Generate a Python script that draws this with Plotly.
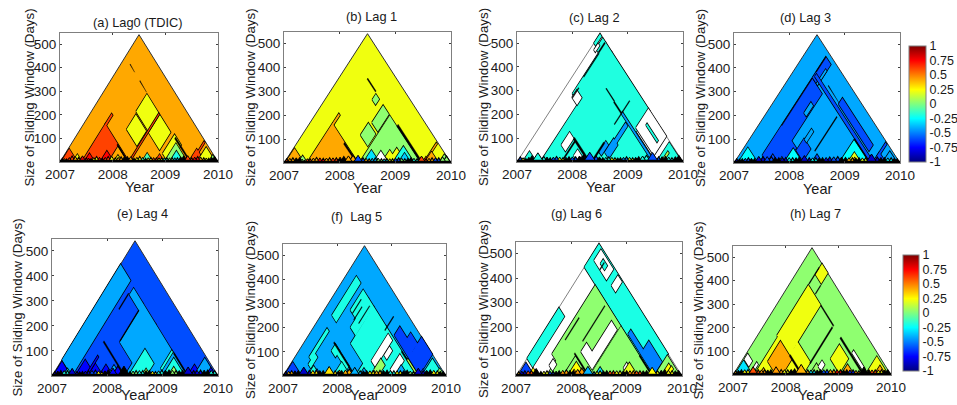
import plotly.graph_objects as go

# Region: (correlation, window-start a1, a2, window-end b1, b2) in years; None = not significant, "k" = dense contour
TITLES = ["(a) Lag0 (TDIC)", "(b) Lag 1", "(c) Lag 2", "(d) Lag 3", "(e) Lag 4", "(f)  Lag 5", "(g) Lag 6", "(h) Lag 7"]
TICK_YEARS = [2007, 2008, 2009, 2010]
TICK_DAYS = [100, 200, 300, 400, 500]
CBAR_TICKS = [-1, -0.75, -0.5, -0.25, 0, 0.25, 0.5, 0.75, 1]

LAG0 = [
    (0.42, 2007, 2010, 2007, 2010),
    (0.62, 2007.02, 2007.33, 2007.02, 2007.33), (0.22, 2007.24, 2007.42, 2007.24, 2007.42),
    (0.62, 2007.41, 2007.45, 2008.3, 2008.55),
    (0.62, 2007.41, 2008.31, 2007.41, 2008.31),
    (0.75, 2007.46, 2007.66, 2007.46, 2007.66), (0.75, 2007.76, 2008.02, 2007.76, 2008.02),
    (0.42, 2007.92, 2008.28, 2007.92, 2008.28), (0.22, 2008.02, 2008.18, 2008.02, 2008.18),
    ("k", 2007.88, 2008.28, 2008.28, 2008.31),
    (0.22, 2007.88, 2008.27, 2008.65, 2009.0), (0.22, 2007.85, 2008.3, 2009.04, 2009.45), (0.22, 2008.34, 2008.75, 2009.03, 2009.45),
    (0.62, 2008.3, 2008.325, 2008.4, 2009.45),
    (0.22, 2008.85, 2009.1, 2009.05, 2009.5), (0.03, 2008.98, 2009.42, 2008.98, 2009.42), (-0.2, 2009.08, 2009.34, 2009.08, 2009.34),
    ("k", 2008.9, 2009.46, 2009.45, 2009.49),
    (-0.1, 2008.55, 2008.76, 2008.55, 2008.76), (0.62, 2008.8, 2008.98, 2008.8, 2008.98),
    ("k", 2007.56, 2007.82, 2009.465, 2009.48), ("k", 2007.18, 2007.36, 2009.475, 2009.49),
    (0.62, 2009.49, 2009.52, 2009.6, 2009.98),
    (0.62, 2009.44, 2009.75, 2009.44, 2009.75), (0.22, 2009.6, 2009.95, 2009.6, 2009.95), (0.03, 2009.82, 2009.98, 2009.82, 2009.98),
]
LAG1 = [
    (0.22, 2007, 2010, 2007, 2010),
    (0.42, 2007.02, 2007.36, 2007.02, 2007.36), (0.03, 2007.25, 2007.42, 2007.25, 2007.42),
    (0.42, 2007.41, 2007.45, 2008.33, 2008.56),
    (0.42, 2007.41, 2008.33, 2007.41, 2008.33),
    ("k", 2007.85, 2008.3, 2008.29, 2008.33),
    (0.03, 2008.05, 2008.31, 2008.7, 2008.98), (0.03, 2008.11, 2008.32, 2009.05, 2009.45), (0.03, 2007.85, 2007.97, 2009.32, 2009.45),
    ("k", 2007.52, 2007.82, 2009.465, 2009.49),
    (0.03, 2008.35, 2009.45, 2008.35, 2009.45),
    (0.22, 2008.85, 2009.05, 2009.0, 2009.2), (0.22, 2008.75, 2008.95, 2008.9, 2009.05),
    (-0.2, 2008.95, 2009.34, 2008.95, 2009.34), (-0.35, 2009.05, 2009.28, 2009.05, 2009.28),
    (None, 2008.6, 2008.78, 2008.72, 2008.88), (-0.3, 2008.42, 2008.72, 2008.42, 2008.72),
    ("k", 2008.6, 2009.46, 2009.45, 2009.5),
    (0.42, 2009.5, 2009.53, 2009.6, 2009.97),
    (0.62, 2009.48, 2009.62, 2009.48, 2009.62), (0.42, 2009.52, 2009.78, 2009.52, 2009.78),
    (0.03, 2009.78, 2009.98, 2009.78, 2009.98), (-0.3, 2009.87, 2009.98, 2009.87, 2009.98),
]
LAG2 = [
    (None, 2007, 2010, 2007, 2010),
    (-0.19, 2007.42, 2008.8, 2008.33, 2010), (-0.19, 2007.2, 2007.42, 2008.8, 2010), (-0.19, 2007.42, 2008.33, 2007.42, 2008.33),
    (-0.19, 2008.33, 2009.45, 2008.33, 2009.5),
    (-0.19, 2007.1, 2007.2, 2009.75, 2010), (-0.19, 2007.0, 2007.06, 2009.78, 2010),
    (None, 2007.08, 2007.13, 2009.7, 2009.85), (None, 2007.6, 2007.75, 2008.0, 2008.3), (None, 2007.24, 2007.42, 2008.75, 2008.92),
    ("k", 2007.24, 2007.26, 2008.75, 2008.98), ("k", 2007.2, 2007.22, 2009.2, 2009.75), ("k", 2007.18, 2007.21, 2009.75, 2009.98),
    (-0.19, 2009.52, 2009.98, 2009.52, 2009.98),
    (None, 2008.75, 2009.4, 2009.55, 2010),
    (-0.19, 2008.9, 2009.3, 2009.76, 2009.8),
    ("k", 2007.75, 2008.05, 2009.46, 2009.48), ("k", 2008.05, 2008.32, 2009.44, 2009.47),
    (-0.45, 2008.32, 2009.42, 2009.45, 2009.49),
    (-0.45, 2008.47, 2008.62, 2008.7, 2009.02), (-0.45, 2008.5, 2008.58, 2009.02, 2009.42), (-0.45, 2008.36, 2008.45, 2008.6, 2008.85),
    ("k", 2008.31, 2008.33, 2009.2, 2009.75),
    (None, 2007.95, 2008.1, 2008.1, 2008.24),
    ("k", 2007.75, 2008.27, 2008.28, 2008.33), ("k", 2008.33, 2008.37, 2008.39, 2008.8),
    ("k", 2007.79, 2007.82, 2007.83, 2008.29),
    (0.1, 2009.6, 2009.64, 2009.64, 2009.85),
    (-0.19, 2007.1, 2007.35, 2007.1, 2007.35),
]
LAG3 = [
    (-0.42, 2007, 2010, 2007, 2010),
    (-0.25, 2007.07, 2007.43, 2007.07, 2007.43),
    (-0.6, 2007.42, 2007.78, 2007.6, 2009.4), (-0.6, 2007.78, 2007.95, 2007.95, 2008.3),
    (-0.42, 2007.68, 2007.76, 2008.85, 2009.1),
    ("k", 2007.415, 2007.43, 2008.3, 2009.4),
    (-0.6, 2007.42, 2007.6, 2009.42, 2009.9), (-0.42, 2007.56, 2007.6, 2009.42, 2009.75),
    ("k", 2007.41, 2007.43, 2009.55, 2009.9),
    (-0.6, 2007.45, 2009.5, 2009.47, 2009.53),
    (-0.6, 2008.2, 2009.3, 2009.58, 2009.72), ("k", 2007.8, 2008.2, 2009.6, 2009.615),
    ("k", 2008.31, 2008.33, 2008.6, 2009.4),
    (-0.6, 2007.98, 2008.22, 2008.27, 2008.55), (-0.25, 2007.9, 2008.1, 2007.9, 2008.24),
    (-0.42, 2008.0, 2008.07, 2008.55, 2008.8),
    (-0.6, 2007.6, 2007.8, 2007.6, 2007.8),
    (-0.6, 2008.4, 2008.6, 2008.4, 2008.6),
    (-0.25, 2008.9, 2009.44, 2008.9, 2009.44), (0.2, 2009.05, 2009.3, 2009.05, 2009.3), (0.45, 2009.12, 2009.24, 2009.12, 2009.24),
    ("k", 2008.9, 2009.46, 2009.445, 2009.47),
    (-0.6, 2009.5, 2009.54, 2009.65, 2009.98),
    (-0.6, 2009.5, 2009.75, 2009.5, 2009.75), (-0.42, 2009.68, 2009.95, 2009.68, 2009.95),
]
LAG4 = [
    (-0.6, 2007, 2010, 2007, 2010),
    (-0.42, 2007.0, 2007.36, 2007.36, 2009.48),
    (-0.75, 2007.02, 2007.34, 2007.02, 2007.34), (-0.2, 2007.2, 2007.36, 2007.2, 2007.36),
    (-0.42, 2007.85, 2008.31, 2008.6, 2009.45), (-0.42, 2008.31, 2009.45, 2008.31, 2009.45), (-0.42, 2007.5, 2007.85, 2009.3, 2009.45),
    ("k", 2007.46, 2007.48, 2008.95, 2009.3), ("k", 2007.83, 2007.85, 2008.62, 2009.3),
    (-0.2, 2008.38, 2008.7, 2008.38, 2008.98), (0.1, 2008.62, 2008.78, 2008.62, 2008.78),
    (-0.2, 2008.88, 2008.92, 2009.05, 2009.45),
    (-0.2, 2009.0, 2009.4, 2009.0, 2009.4), (0.05, 2009.1, 2009.3, 2009.1, 2009.3),
    ("k", 2008.95, 2009.46, 2009.44, 2009.47),
    (-0.75, 2007.42, 2007.78, 2007.42, 2007.78), (-0.75, 2007.65, 2007.92, 2007.65, 2007.92), (-0.75, 2007.85, 2008.1, 2007.85, 2008.1),
    (-0.42, 2008.0, 2008.24, 2008.0, 2008.24), (-0.75, 2007.6, 2007.63, 2007.65, 2008.05),
    ("k", 2007.55, 2008.25, 2008.3, 2008.33),
    (-0.75, 2009.45, 2009.7, 2009.45, 2009.7), (-0.42, 2009.56, 2009.96, 2009.56, 2009.96), (-0.75, 2009.78, 2009.96, 2009.78, 2009.96),
]
LAG5 = [
    (-0.42, 2007, 2010, 2007, 2010),
    (-0.2, 2007.2, 2007.36, 2008.6, 2009.5),
    (-0.2, 2007.87, 2008.33, 2008.62, 2009.47), (-0.2, 2007.68, 2007.87, 2008.8, 2009.47), (-0.2, 2007.48, 2007.68, 2009.0, 2009.47),
    (-0.2, 2008.33, 2009.47, 2008.33, 2009.47),
    ("k", 2007.55, 2007.565, 2009.0, 2009.32), ("k", 2007.78, 2007.795, 2009.0, 2009.4), ("k", 2007.65, 2007.665, 2008.95, 2009.25),
    (None, 2008.45, 2008.6, 2008.8, 2009.42), (None, 2008.9, 2009.05, 2009.05, 2009.4), (None, 2008.62, 2008.72, 2009.1, 2009.3),
    (0.05, 2008.6, 2008.75, 2008.75, 2009.0), (0.25, 2008.6, 2008.72, 2008.6, 2008.72),
    (-0.42, 2008.4, 2008.58, 2008.4, 2008.58), (-0.42, 2009.05, 2009.3, 2009.05, 2009.3),
    ("k", 2008.9, 2009.46, 2009.45, 2009.48),
    (0.1, 2009.1, 2009.45, 2009.47, 2009.5),
    (-0.62, 2008.58, 2009.1, 2009.52, 2009.72), (-0.62, 2009.1, 2009.5, 2009.52, 2010), (-0.62, 2008.85, 2009.1, 2009.72, 2009.85),
    ("k", 2008.34, 2008.36, 2009.4, 2009.72),
    (-0.2, 2007.26, 2007.33, 2007.7, 2008.36), (-0.2, 2007.33, 2007.42, 2007.6, 2007.85),
    (-0.2, 2007.6, 2007.75, 2008.18, 2008.33), (-0.2, 2007.75, 2008.1, 2008.24, 2008.33),
    ("k", 2007.55, 2008.28, 2008.31, 2008.34),
    (-0.62, 2007.02, 2007.34, 2007.02, 2007.34), (-0.2, 2007.45, 2007.68, 2007.45, 2007.68), (-0.62, 2007.55, 2007.7, 2007.55, 2007.7),
    (-0.2, 2007.92, 2008.24, 2007.92, 2008.24), (0.3, 2007.98, 2008.1, 2007.98, 2008.1),
    (-0.2, 2009.55, 2009.95, 2009.55, 2009.95), (-0.62, 2009.5, 2009.66, 2009.5, 2009.66), (0.05, 2009.8, 2009.97, 2009.8, 2009.97),
]
LAG6 = [
    (None, 2007, 2010, 2007, 2010),
    (-0.2, 2007.0, 2007.2, 2007.4, 2008.55),
    (-0.2, 2007.0, 2009.5, 2009.47, 2010),
    (None, 2007.1, 2007.55, 2009.72, 2009.97), (None, 2007.7, 2007.85, 2009.75, 2009.98),
    (-0.2, 2007.25, 2007.4, 2009.8, 2009.9),
    ("k", 2007.3, 2007.32, 2009.72, 2009.88),
    (-0.5, 2008.55, 2009.0, 2009.5, 2009.6), (-0.5, 2009.0, 2009.48, 2009.5, 2009.8),
    (0.03, 2009.5, 2009.97, 2009.5, 2009.97), (0.25, 2009.62, 2009.68, 2009.68, 2009.9), (0.25, 2009.7, 2009.76, 2009.76, 2009.92),
    (0.03, 2007.4, 2008.32, 2007.9, 2009.46), (0.03, 2007.55, 2008.32, 2007.55, 2007.9),
    (0.03, 2008.33, 2009.46, 2008.33, 2009.46),
    (None, 2007.9, 2008.3, 2008.45, 2008.65), (None, 2008.1, 2008.3, 2008.65, 2009.35),
    (None, 2008.85, 2008.93, 2009.03, 2009.15), (None, 2007.48, 2007.6, 2007.72, 2007.86),
    ("k", 2007.8, 2007.82, 2008.6, 2009.4), ("k", 2007.47, 2007.49, 2008.3, 2008.8),
    (0.25, 2007.62, 2007.72, 2007.62, 2007.72),
    (0.03, 2007.85, 2008.3, 2007.85, 2008.3), (0.25, 2007.93, 2008.25, 2007.93, 2008.25), (0.45, 2007.98, 2008.12, 2007.98, 2008.12),
    ("k", 2007.8, 2008.28, 2008.3, 2008.33),
    ("k", 2009.0, 2009.47, 2009.45, 2009.48),
    (0.2, 2008.9, 2009.2, 2008.9, 2009.2), (-0.3, 2008.42, 2008.62, 2008.42, 2008.62),
    (-0.62, 2007.03, 2007.33, 2007.03, 2007.33), (0.3, 2007.22, 2007.4, 2007.22, 2007.4),
]
LAG7 = [
    (0.03, 2007, 2010, 2007, 2010),
    (0.22, 2007.38, 2007.6, 2009.75, 2010),
    ("k", 2007.36, 2007.38, 2009.52, 2009.9),
    ("k", 2007.6, 2007.62, 2009.52, 2009.72),
    (0.22, 2007.37, 2007.84, 2008.3, 2009.49), (0.22, 2007.84, 2008.32, 2008.3, 2008.62),
    (0.22, 2007.4, 2008.3, 2007.4, 2008.3),
    (0.42, 2007.5, 2007.93, 2007.82, 2008.3), (0.42, 2007.5, 2007.66, 2007.5, 2007.66),
    ("k", 2007.85, 2008.27, 2008.29, 2008.33),
    ("k", 2007.85, 2008.33, 2009.475, 2009.5),
    ("k", 2008.31, 2008.34, 2008.6, 2009.45),
    (0.22, 2008.66, 2009.0, 2009.04, 2009.38),
    (None, 2009.0, 2009.42, 2009.52, 2009.58),
    ("k", 2008.6, 2009.45, 2009.46, 2009.5),
    (0.05, 2008.45, 2008.72, 2008.45, 2008.72), (None, 2008.52, 2008.62, 2008.72, 2008.86),
    (0.22, 2009.51, 2009.95, 2009.51, 2009.95), (0.42, 2009.68, 2009.9, 2009.68, 2009.9),
    (None, 2007.03, 2007.2, 2007.4, 2007.53), (-0.3, 2007.03, 2007.37, 2007.03, 2007.37),
    (None, 2007.3, 2007.35, 2007.42, 2007.6),
    (0.42, 2009.05, 2009.3, 2009.05, 2009.3),
]
# Short-window cells at the foot of each triangle: (window start, window end, correlation)
FOOT0 = [(2007.0, 2007.09, 0.75), (2007.09, 2007.16, 0.22), (2007.16, 2007.3, 0.62), (2007.3, 2007.41, 0.42), (2007.45, 2007.55, 0.8), (2007.55, 2007.63, 0.62), (2007.63, 2007.76, 0.22), (2007.76, 2007.85, 0.75), (2007.85, 2007.98, 0.62), (2008.0, 2008.1, 0.22), (2008.1, 2008.22, 0.42), (2008.22, 2008.34, "k"), (2008.36, 2008.45, 0.42), (2008.45, 2008.58, 0.22), (2008.58, 2008.67, -0.1), (2008.67, 2008.78, 0.22), (2008.78, 2008.88, 0.62), (2008.88, 2008.98, 0.22), (2008.98, 2009.08, -0.2), (2009.08, 2009.18, 0.03), (2009.18, 2009.28, -0.4), (2009.28, 2009.42, "k"), (2009.45, 2009.55, 0.62), (2009.55, 2009.68, 0.75), (2009.68, 2009.78, 0.42), (2009.78, 2009.87, 0.22), (2009.87, 2010.0, "k")]
FOOT1 = [(2007.0, 2007.1, 0.62), (2007.1, 2007.22, 0.42), (2007.22, 2007.34, "k"), (2007.34, 2007.4, 0.03), (2007.42, 2007.52, 0.62), (2007.52, 2007.65, 0.42), (2007.65, 2007.76, 0.75), (2007.76, 2007.88, 0.42), (2007.88, 2008.0, 0.62), (2008.0, 2008.15, "k"), (2008.15, 2008.33, 0.42), (2008.36, 2008.48, -0.6), (2008.48, 2008.58, 0.42), (2008.58, 2008.7, -0.4), (2008.7, 2008.8, 0.03), (2008.8, 2008.9, -0.3), (2008.9, 2009.0, 0.22), (2009.0, 2009.12, -0.6), (2009.12, 2009.22, 0.03), (2009.22, 2009.34, "k"), (2009.34, 2009.44, -0.2), (2009.5, 2009.6, 0.62), (2009.6, 2009.72, 0.42), (2009.72, 2009.84, -0.6), (2009.84, 2010.0, 0.03)]
FOOT2 = [(2007.0, 2007.12, -0.6), (2007.12, 2007.2, 0.22), (2007.2, 2007.34, "k"), (2007.42, 2007.55, -0.2), (2007.55, 2007.65, "k"), (2007.65, 2007.78, -0.6), (2007.78, 2007.88, 0.25), (2007.88, 2008.0, "k"), (2008.0, 2008.12, -0.6), (2008.12, 2008.28, "k"), (2008.36, 2008.5, -0.6), (2008.5, 2008.6, "k"), (2008.6, 2008.72, -0.2), (2008.72, 2008.82, 0.25), (2008.82, 2008.92, "k"), (2008.92, 2009.04, -0.5), (2009.04, 2009.14, 0.22), (2009.14, 2009.26, "k"), (2009.26, 2009.42, -0.2), (2009.5, 2009.62, -0.6), (2009.62, 2009.75, "k"), (2009.75, 2009.85, -0.2), (2009.85, 2010.0, "k")]
FOOT3 = [(2007.0, 2007.1, -0.85), (2007.1, 2007.2, "k"), (2007.2, 2007.32, -0.6), (2007.32, 2007.42, "k"), (2007.45, 2007.6, -0.85), (2007.6, 2007.75, -0.6), (2007.75, 2007.87, "k"), (2007.87, 2008.0, -0.85), (2008.0, 2008.12, -0.25), (2008.12, 2008.25, "k"), (2008.3, 2008.42, -0.85), (2008.42, 2008.54, -0.25), (2008.54, 2008.66, "k"), (2008.66, 2008.8, -0.85), (2008.8, 2008.95, -0.6), (2008.95, 2009.08, "k"), (2009.08, 2009.2, 0.4), (2009.2, 2009.32, "k"), (2009.32, 2009.44, 0.2), (2009.52, 2009.66, -0.85), (2009.66, 2009.78, "k"), (2009.78, 2009.9, -0.25), (2009.9, 2010.0, "k")]
FOOT4 = [(2007.0, 2007.1, -0.85), (2007.1, 2007.22, "k"), (2007.22, 2007.34, -0.2), (2007.4, 2007.5, -0.85), (2007.5, 2007.6, "k"), (2007.6, 2007.72, -0.85), (2007.72, 2007.85, -0.6), (2007.85, 2007.95, 0.25), (2007.95, 2008.08, "k"), (2008.08, 2008.3, -0.75), (2008.36, 2008.46, "k"), (2008.46, 2008.58, 0.03), (2008.58, 2008.7, -0.2), (2008.7, 2008.82, "k"), (2008.82, 2008.92, 0.25), (2008.92, 2009.05, -0.2), (2009.05, 2009.18, "k"), (2009.18, 2009.3, 0.03), (2009.3, 2009.42, "k"), (2009.5, 2009.62, -0.85), (2009.62, 2009.75, -0.75), (2009.75, 2009.88, "k"), (2009.88, 2010.0, -0.2)]
FOOT5 = [(2007.0, 2007.1, -0.85), (2007.1, 2007.22, 0.4), (2007.22, 2007.34, "k"), (2007.42, 2007.55, -0.85), (2007.55, 2007.68, 0.3), (2007.68, 2007.8, "k"), (2007.9, 2008.02, 0.3), (2008.02, 2008.14, "k"), (2008.14, 2008.3, 0.4), (2008.36, 2008.48, -0.4), (2008.48, 2008.6, "k"), (2008.6, 2008.72, 0.25), (2008.72, 2008.85, 0.4), (2008.85, 2008.98, "k"), (2008.98, 2009.1, -0.2), (2009.1, 2009.22, 0.25), (2009.22, 2009.35, "k"), (2009.35, 2009.45, 0.03), (2009.52, 2009.64, -0.85), (2009.64, 2009.78, "k"), (2009.78, 2009.9, 0.25), (2009.9, 2010.0, "k")]
FOOT6 = [(2007.0, 2007.1, 0.4), (2007.1, 2007.22, -0.85), (2007.22, 2007.34, 0.6), (2007.4, 2007.5, "k"), (2007.5, 2007.62, 0.22), (2007.62, 2007.72, -0.6), (2007.72, 2007.84, "k"), (2007.84, 2007.98, 0.45), (2007.98, 2008.1, "k"), (2008.1, 2008.28, 0.45), (2008.36, 2008.46, -0.4), (2008.46, 2008.58, 0.22), (2008.58, 2008.7, "k"), (2008.7, 2008.82, 0.6), (2008.82, 2008.94, 0.25), (2008.94, 2009.06, "k"), (2009.06, 2009.18, 0.45), (2009.18, 2009.3, 0.6), (2009.3, 2009.42, "k"), (2009.5, 2009.62, 0.25), (2009.62, 2009.76, "k"), (2009.76, 2009.88, 0.25), (2009.88, 2010.0, "k")]
FOOT7 = [(2007.0, 2007.1, 0.4), (2007.1, 2007.22, "k"), (2007.22, 2007.35, 0.25), (2007.42, 2007.54, 0.6), (2007.54, 2007.66, 0.45), (2007.66, 2007.78, "k"), (2007.85, 2007.98, 0.45), (2007.98, 2008.1, 0.22), (2008.1, 2008.24, "k"), (2008.36, 2008.48, 0.4), (2008.48, 2008.6, -0.3), (2008.6, 2008.72, "k"), (2008.72, 2008.85, -0.6), (2008.85, 2008.98, 0.45), (2008.98, 2009.1, 0.8), (2009.1, 2009.22, "k"), (2009.22, 2009.34, -0.7), (2009.34, 2009.44, 0.45), (2009.52, 2009.64, "k"), (2009.64, 2009.76, 0.6), (2009.76, 2009.88, 0.25), (2009.88, 2010.0, "k")]

REGIONS = [LAG0, LAG1, LAG2, LAG3, LAG4, LAG5, LAG6, LAG7]
FEET = [FOOT0, FOOT1, FOOT2, FOOT3, FOOT4, FOOT5, FOOT6, FOOT7]

# Layout: axes rectangles in pixels (left, right, top, bottom)
W, H = 957, 405
RECTS = [(60, 218, 33, 162), (284, 451, 32, 163), (517, 683, 32, 162), (734, 900, 33, 163),
         (52, 218, 239, 376), (283, 446, 244, 376), (516, 682, 242, 376), (733, 891, 246, 375)]
TITLE_POS = [(138, 22), (371, 17), (594, 18), (805, 18), (142, 214), (356, 216), (576, 213), (815, 213)]
YTITLE_X = [29, 250, 484, 700, 17, 250, 483, 698]
YEAR_Y = [187, 188, 187, 189, 395, 395, 395, 395]
DAYS_PER_YEAR_SPAN = 180
GRAY = "#7f7f7f"
INK = "#1a1a1a"
FONT = "Liberation Sans, Arial, sans-serif"


def jet(v):
    t = (v + 1) / 2
    c = lambda x: max(0.0, min(1.0, x))
    r = c(min(4 * t - 1.5, -4 * t + 4.5))
    g = c(min(4 * t - 0.5, -4 * t + 3.5))
    b = c(min(4 * t + 0.5, -4 * t + 2.5))
    return "rgb(%d,%d,%d)" % (round(r * 255), round(g * 255), round(b * 255))


def colour(v):
    if v is None:
        return "#ffffff"
    if v == "k":
        return "#000000"
    return jet(v)


def polygon(a1, a2, b1, b2):
    pts = []
    if a1 >= b1:
        pts.append((a1, a1))
    else:
        pts.append((a1, b1))
        if a2 > b1:
            pts.append((b1, b1))
    if a2 > b1:
        pts.append((a2, a2))
    else:
        pts.append((a2, b1))
    pts.extend([(a2, b2), (a1, b2)])
    pts.append(pts[0])
    return [(a + b) / 2 for a, b in pts], [(b - a) * DAYS_PER_YEAR_SPAN for a, b in pts]


def poly_trace(xs, ys, fill, line, width, axes):
    return go.Scatter(x=xs, y=ys, mode="lines", fill="toself", fillcolor=fill,
                      line=dict(color=line, width=width), hoverinfo="skip", showlegend=False,
                      xaxis=axes[0], yaxis=axes[1])


def merge(rects):
    xs, ys = [], []
    for r in rects:
        px, py = polygon(*r)
        xs += px + [None]
        ys += py + [None]
    return xs, ys


def text_note(text, x, y, size, angle=0):
    return dict(text=text, x=x / W, y=1 - y / H, xref="paper", yref="paper", showarrow=False, textangle=angle,
                xanchor="center", yanchor="middle", font=dict(family=FONT, size=size, color=INK))


fig = go.Figure()
annotations = []
layout = {}
for i, (regions, foot, rect, title, tpos) in enumerate(zip(REGIONS, FEET, RECTS, TITLES, TITLE_POS)):
    n = "" if i == 0 else str(i + 1)
    axes = ("x" + n, "y" + n)
    L, R, T, B = rect
    common = dict(showgrid=False, zeroline=False, showline=True, linecolor=GRAY, linewidth=1,
                  mirror="allticks", ticks="inside", ticklen=2, tickcolor="#404040", tickwidth=1,
                  tickfont=dict(family=FONT, size=13.5, color=INK), automargin=False)
    layout["xaxis" + n] = dict(domain=[L / W, R / W], range=[2007, 2010], anchor=axes[1], tickvals=TICK_YEARS,
                               ticktext=[str(t) for t in TICK_YEARS], **common)
    layout["yaxis" + n] = dict(domain=[1 - B / H, 1 - T / H], range=[0, 547], anchor=axes[0], tickvals=TICK_DAYS, **common)
    annotations.append(text_note(title, tpos[0], tpos[1], 12.8))
    annotations.append(text_note("Size of Sliding Window (Days)", YTITLE_X[i], (T + B) / 2, 13.3, -90))
    annotations.append(text_note("Year", (L + R) / 2, YEAR_Y[i], 14.5))
    # Background triangle
    bg = regions[0]
    xs, ys = merge([bg[1:]])
    fig.add_trace(poly_trace(xs, ys, colour(bg[0]), "#808080" if bg[0] is None else "#303030", 1, axes))
    # Contiguous runs of equal value share one outline
    run, cur = [], regions[1][0]
    def flush(run, cur):
        xs, ys = merge(run)
        if cur == "k":
            fig.add_trace(poly_trace(xs, ys, "#000000", "#000000", 0.3, axes))
        else:
            fig.add_trace(poly_trace(xs, ys, colour(cur), "#000000", 1.5, axes))
            fig.add_trace(poly_trace(xs, ys, colour(cur), colour(cur), 0, axes))
    for reg in regions[1:]:
        if reg[0] != cur:
            flush(run, cur)
            run, cur = [], reg[0]
        run.append(reg[1:])
    flush(run, cur)
    # Foot cells, one trace per value
    values = []
    for c in foot:
        if c[2] not in values:
            values.append(c[2])
    for v in values:
        xs, ys = merge([(a, b, a, b) for a, b, w in foot if w == v])
        fig.add_trace(poly_trace(xs, ys, colour(v), "#000000", 1.1, axes))
    # Shorter windows straddling neighbouring foot cells, and the black floor of the shortest windows
    lower = []
    for c1, c2 in zip(foot[:-1], foot[1:]):
        lower.append(((c1[0] + c1[1]) / 2, (c2[0] + c2[1]) / 2, c2[2]))
    for v in values:
        xs, ys = merge([(a, b, a, b) for a, b, w in lower if w == v])
        if xs:
            fig.add_trace(poly_trace(xs, ys, colour(v), "#000000", 1, axes))
    fig.add_trace(go.Scatter(x=TICK_YEARS[0::3], y=[3, 3], mode="lines", line=dict(color="#000000", width=3),
                             hoverinfo="skip", showlegend=False, xaxis=axes[0], yaxis=axes[1]))

for bar_axes, (bx, by0, by1, thick) in zip([("x4", "y4"), ("x8", "y8")], [(909, 46, 162, 17), (903, 255, 371, 16)]):
    fig.add_trace(go.Scatter(
        x=[2007, 2007], y=[1, 1], xaxis=bar_axes[0], yaxis=bar_axes[1], mode="markers", hoverinfo="skip", showlegend=False,
        marker=dict(size=1, opacity=0, color=[-1, 1], cmin=-1, cmax=1,
                    colorscale=[[0, "#00007f"], [0.125, "#0000ff"], [0.375, "#00ffff"], [0.625, "#ffff00"], [0.875, "#ff0000"], [1, "#7f0000"]],
                    showscale=True,
                    colorbar=dict(x=bx / W, xanchor="left", xpad=0, ypad=0, thickness=thick, thicknessmode="pixels",
                                  y=1 - by1 / H, yanchor="bottom", len=(by1 - by0) / H, lenmode="fraction",
                                  tickvals=CBAR_TICKS, ticktext=["-1", "-0.75", "-0.5", "-0.25", "0", "0.25", "0.5", "0.75", "1"],
                                  ticks="", outlinecolor=GRAY, outlinewidth=1, borderwidth=0,
                                  tickfont=dict(family=FONT, size=12.5, color=INK))),
    ))

fig.update_layout(width=W, height=H, margin=dict(l=0, r=0, t=0, b=0), paper_bgcolor="white", plot_bgcolor="white",
                  showlegend=False, annotations=annotations, **layout)
fig.write_html("out.html", config=dict(displayModeBar=False),
               post_script="document.body.style.margin='0';document.body.style.overflow='hidden';")
